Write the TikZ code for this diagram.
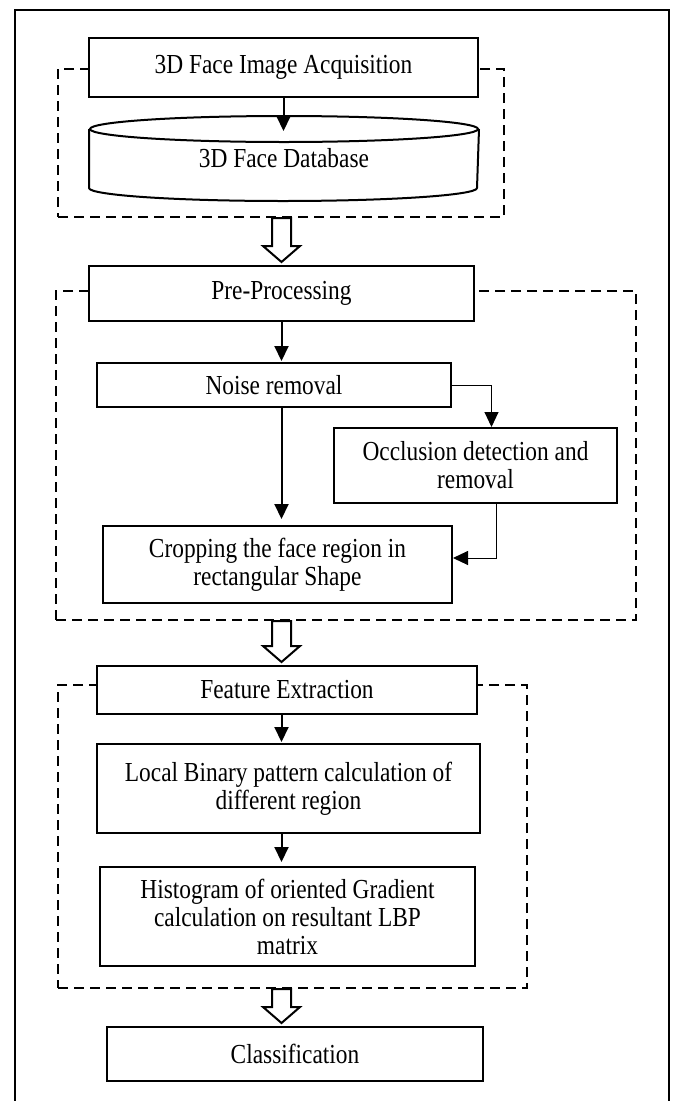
\documentclass[tikz,border=0pt]{standalone}
\usepackage{fontspec}
\setmainfont{Liberation Serif}[FakeStretch=0.85]
\usetikzlibrary{arrows.meta,calc,positioning}

\newcommand{\fatarrow}[2]{%
  \draw[fat] let \p1=(#1), \p2=(#2) in
    (\x1-9.5pt,\y1) -- (\x1-9.5pt,\y2+19pt) -- (\x1-18.5pt,\y2+19pt)
    -- (\x1,\y2+3pt) -- (\x1+18.5pt,\y2+19pt) -- (\x1+9.5pt,\y2+19pt)
    -- (\x1+9.5pt,\y1) -- cycle;}

\begin{document}
\begin{tikzpicture}[x=1pt,y=-1pt,>={Triangle[length=15pt,width=14pt]},
                    line width=2pt]
  \tikzstyle{block}=[draw,fill=white,align=center,inner sep=2pt,
                     font=\fontsize{27.5}{28}\selectfont]
  \tikzstyle{group}=[draw,dash pattern=on 10pt off 6pt]
  \tikzstyle{link}=[->,shorten >=1pt]
  \tikzstyle{thin link}=[->,line width=1pt]
  \tikzstyle{fat}=[draw,fill=white]

  \useasboundingbox (0,0) rectangle (675,1101);
  \draw[line width=2.2pt] (15,1101) -- (15,10) -- (669,10) -- (669,1101);

  % dashed stages
  \node[group,minimum width=446pt,minimum height=148pt] (grpA) at (281,143) {};
  \node[group,minimum width=580pt,minimum height=329pt] (grpB) at (346,455.5) {};
  \node[group,minimum width=469pt,minimum height=303pt] (grpC) at (292.5,836.5) {};

  \node[block,minimum width=389pt,minimum height=59pt] (acq) at (283.5,67.5) {3D Face Image Acquisition};
  \node[block,draw=none,fill=none,minimum width=388pt,minimum height=57pt] (db) at (284,158.5) {3D Face Database};
  \draw (db.north west) -- (db.south west)
        arc[start angle=180,end angle=360,x radius=194pt,y radius=13pt] -- (db.north east);
  \draw (db.north) ellipse[x radius=194pt,y radius=13pt];

  \node[block,minimum width=385pt,minimum height=55pt] (pre)   at (281.5,293.5) {Pre-Processing};
  \node[block,minimum width=354pt,minimum height=44pt] (noise) at (274,385)     {Noise removal};
  \node[block,minimum width=283pt,minimum height=75pt] (occ)   at (475.5,465.5) {Occlusion detection and\\removal};
  \node[block,minimum width=349pt,minimum height=77pt] (crop)  at (277.5,564.5) {Cropping the face region in\\rectangular Shape};

  \node[block,minimum width=380pt,minimum height=48pt] (fe)  at (287,690)     {Feature Extraction};
  \node[block,minimum width=383pt,minimum height=89pt] (lbp) at (288.5,788.5) {Local Binary pattern calculation of\\different region};
  \node[block,minimum width=375pt,minimum height=99pt] (hog) at (287.5,916.5) {Histogram of oriented Gradient\\calculation on resultant LBP\\matrix};

  \node[block,minimum width=376pt,minimum height=54pt] (cls) at (295,1054) {Classification};

  \draw[link] (acq.south) -- ($(acq.south |- db.north)+(0,3)$);
  \draw[link] (pre.south) -- (pre.south |- noise.north);
  \draw[thin link] (noise.east) -| ($(occ.north)+(16,0)$);
  \draw[link,shorten >=6pt] (noise.south -| pre.south) -- (pre.south |- crop.north);
  \draw[thin link] ($(occ.south)+(21,0)$) |- ($(crop.east)+(0,-6.5)$);
  \draw[link] (fe.south -| pre.south) -- (pre.south |- lbp.north);
  \draw[link,shorten >=4pt] (lbp.south -| pre.south) -- (pre.south |- hog.north);

  \fatarrow{grpA.south -| pre.north}{pre.north}
  \fatarrow{grpB.south -| pre.north}{fe.north}
  \fatarrow{grpC.south -| pre.north}{cls.north}
\end{tikzpicture}
\end{document}
